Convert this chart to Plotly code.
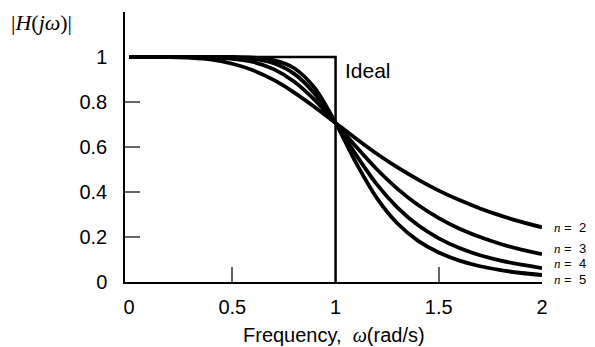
import plotly.graph_objects as go

# Frequency samples (rad/s)
freq = [0.0, 0.1, 0.2, 0.3, 0.4, 0.5, 0.6, 0.7, 0.8, 0.9, 1.0,
        1.1, 1.2, 1.3, 1.4, 1.5, 1.6, 1.7, 1.8, 1.9, 2.0]

# Magnitude readings for each order n
mag_n2 = [1.000, 1.000, 0.999, 0.996, 0.988, 0.970, 0.941, 0.898, 0.842, 0.777, 0.707,
          0.637, 0.570, 0.509, 0.455, 0.406, 0.364, 0.327, 0.295, 0.267, 0.243]
mag_n3 = [1.000, 1.000, 1.000, 1.000, 0.998, 0.992, 0.978, 0.946, 0.890, 0.808, 0.707,
          0.601, 0.501, 0.414, 0.342, 0.284, 0.237, 0.200, 0.169, 0.144, 0.124]
mag_n4 = [1.000, 1.000, 1.000, 1.000, 1.000, 0.998, 0.992, 0.972, 0.925, 0.836, 0.707,
          0.564, 0.434, 0.331, 0.252, 0.194, 0.151, 0.119, 0.095, 0.077, 0.062]
mag_n5 = [1.000, 1.000, 1.000, 1.000, 1.000, 1.000, 0.997, 0.986, 0.950, 0.861, 0.707,
          0.528, 0.373, 0.260, 0.183, 0.131, 0.095, 0.070, 0.053, 0.040, 0.031]

# Ideal brick-wall response
ideal_x = [0.0, 1.0, 1.0]
ideal_y = [1.0, 1.0, 0.0]

orders = ["2", "3", "4", "5"]
series = [mag_n2, mag_n3, mag_n4, mag_n5]
label_y = [0.241, 0.151, 0.084, 0.013]

x_ticks = [0, 0.5, 1, 1.5, 2]
x_tick_text = ["0", "0.5", "1", "1.5", "2"]
y_ticks = [0, 0.2, 0.4, 0.6, 0.8, 1]
y_tick_text = ["0", "0.2", "0.4", "0.6", "0.8", "1"]

SANS = "Liberation Sans, Arial, Helvetica, sans-serif"
SERIF = "Liberation Serif, Times New Roman, serif"

fig = go.Figure()

fig.add_trace(go.Scatter(x=ideal_x, y=ideal_y, mode="lines",
                         line=dict(color="black", width=2.5),
                         hoverinfo="skip", showlegend=False))

for vals in series:
    fig.add_trace(go.Scatter(x=freq, y=vals, mode="lines",
                             line=dict(color="black", width=3.8, shape="spline", smoothing=0.8),
                             showlegend=False))

annotations = []
for o, ly in zip(orders, label_y):
    annotations.append(dict(
        x=2.0, y=ly, xref="x", yref="y", xanchor="left", yanchor="middle",
        xshift=10, showarrow=False,
        text=f"<span style='font-family:{SERIF}'><i>n</i></span> =  {o}",
        font=dict(family=SANS, size=13, color="black")))

annotations.append(dict(
    x=1.0, y=0.94, xref="x", yref="y", xanchor="left", yanchor="middle",
    xshift=7, showarrow=False, text="Ideal",
    font=dict(family=SANS, size=21, color="black")))

annotations.append(dict(
    x=-0.2014, y=0.962, xref="paper", yref="paper",
    xanchor="center", yanchor="middle", showarrow=False,
    text="|<i>H</i>(<i>j\u03c9</i>)|",
    font=dict(family=SERIF, size=22, color="black")))

annotations.append(dict(
    x=0.5, y=-0.196, xref="paper", yref="paper",
    xanchor="center", yanchor="middle", showarrow=False,
    text=f"Frequency,  <span style='font-family:{SERIF}'><i>\u03c9</i></span>(rad/s)",
    font=dict(family=SANS, size=20, color="black")))

fig.update_layout(
    width=595, height=347,
    margin=dict(l=125, r=53, t=12, b=65, autoexpand=False),
    paper_bgcolor="white", plot_bgcolor="white",
    annotations=annotations,
    xaxis=dict(
        range=[-0.02, 2.0], tickvals=x_ticks, ticktext=x_tick_text,
        ticks="", showgrid=False, zeroline=False, automargin=False,
        showline=True, linecolor="black", linewidth=1.5,
        tickfont=dict(family=SANS, size=20, color="black"),
        ticklabelstandoff=6,
        minor=dict(tickvals=[0.5, 1.5], ticks="inside", ticklen=15,
                   tickcolor="#666666", tickwidth=1.5, showgrid=False),
    ),
    yaxis=dict(
        range=[0, 1.2], tickvals=y_ticks, ticktext=y_tick_text,
        ticks="", showgrid=False, zeroline=False, automargin=False,
        showline=True, linecolor="black", linewidth=1.5,
        tickfont=dict(family=SANS, size=20, color="black"),
        ticklabelstandoff=12,
        minor=dict(tickvals=[0.2, 0.4, 0.6, 0.8], ticks="inside", ticklen=15,
                   tickcolor="#666666", tickwidth=1.5, showgrid=False),
    ),
)

fig.write_html("out.html")
